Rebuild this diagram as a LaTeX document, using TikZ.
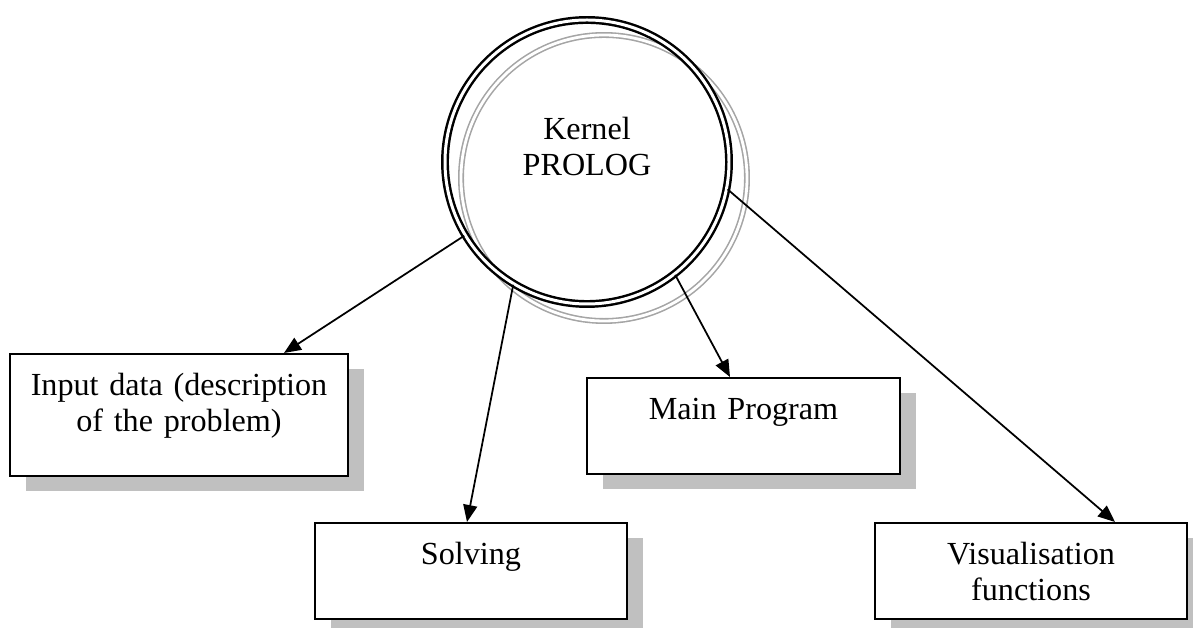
\documentclass[tikz,border=0pt]{standalone}
\usepackage{fontspec}
\setmainfont{Liberation Serif}
\usepackage{tikz}
\usepackage{xcolor}
\usetikzlibrary{arrows.meta,positioning,shadows}
\definecolor{kpshade}{RGB}{192,192,192}
\definecolor{kpring}{RGB}{165,165,165}
\tikzset{
  kpbox/.style={draw, line width=1.1pt, fill=white, rectangle, inner sep=0pt, align=center, anchor=north, text height=.83cm, text depth=1.09cm, text width=6.24cm, minimum width=6.24cm, minimum height=1.92cm,
    drop shadow={shadow xshift=.31cm, shadow yshift=-.31cm, fill=kpshade, opacity=1}},
  kpcore/.style={draw, circle, double, line width=1.4pt, double distance=1.7pt, minimum size=5.68cm, align=center},
  kpring/.style={draw=kpring, double, line width=.9pt, double distance=1.6pt},
  kparr/.style={-{Triangle[length=3.4mm, width=2.8mm]}, line width=1pt}
}

\begin{document}
\begin{tikzpicture}[font=\fontsize{18.3}{20.5}\selectfont]
  \useasboundingbox (0,0) rectangle (23.86,12.56);
  \coordinate (core) at (11.74,9.32);
  \draw[kpring] ([shift={(.34,-.32)}]core) circle (2.86);
  \node[kpcore, text height=1.3cm, text depth=.74cm] (kernel) at (core) {Kernel\\PROLOG};
  \node[kpbox, text width=6.76cm, minimum width=6.76cm, minimum height=2.44cm, text depth=1.61cm] (input) at (3.58,5.50) {Input data (description\\of the problem)};
  \node[kpbox, text width=6.26cm, minimum width=6.26cm] (main) at (14.87,5.02) {Main Program};
  \node[kpbox] (solving) at (9.42,2.12) {Solving};
  \node[kpbox] (visual) at (20.62,2.12) {Visualisation\\functions};
  \draw[kparr] (kernel.211.6) -- ([xshift=-1.3cm]input.north east);
  \draw[kparr] (kernel.239) -- ([xshift=-.08cm]solving.north);
  \draw[kparr] (kernel.308.7) -- ([xshift=-.27cm]main.north);
  \draw[kparr] (kernel.349.9) -- ([xshift=1.68cm]visual.north);
\end{tikzpicture}
\end{document}
